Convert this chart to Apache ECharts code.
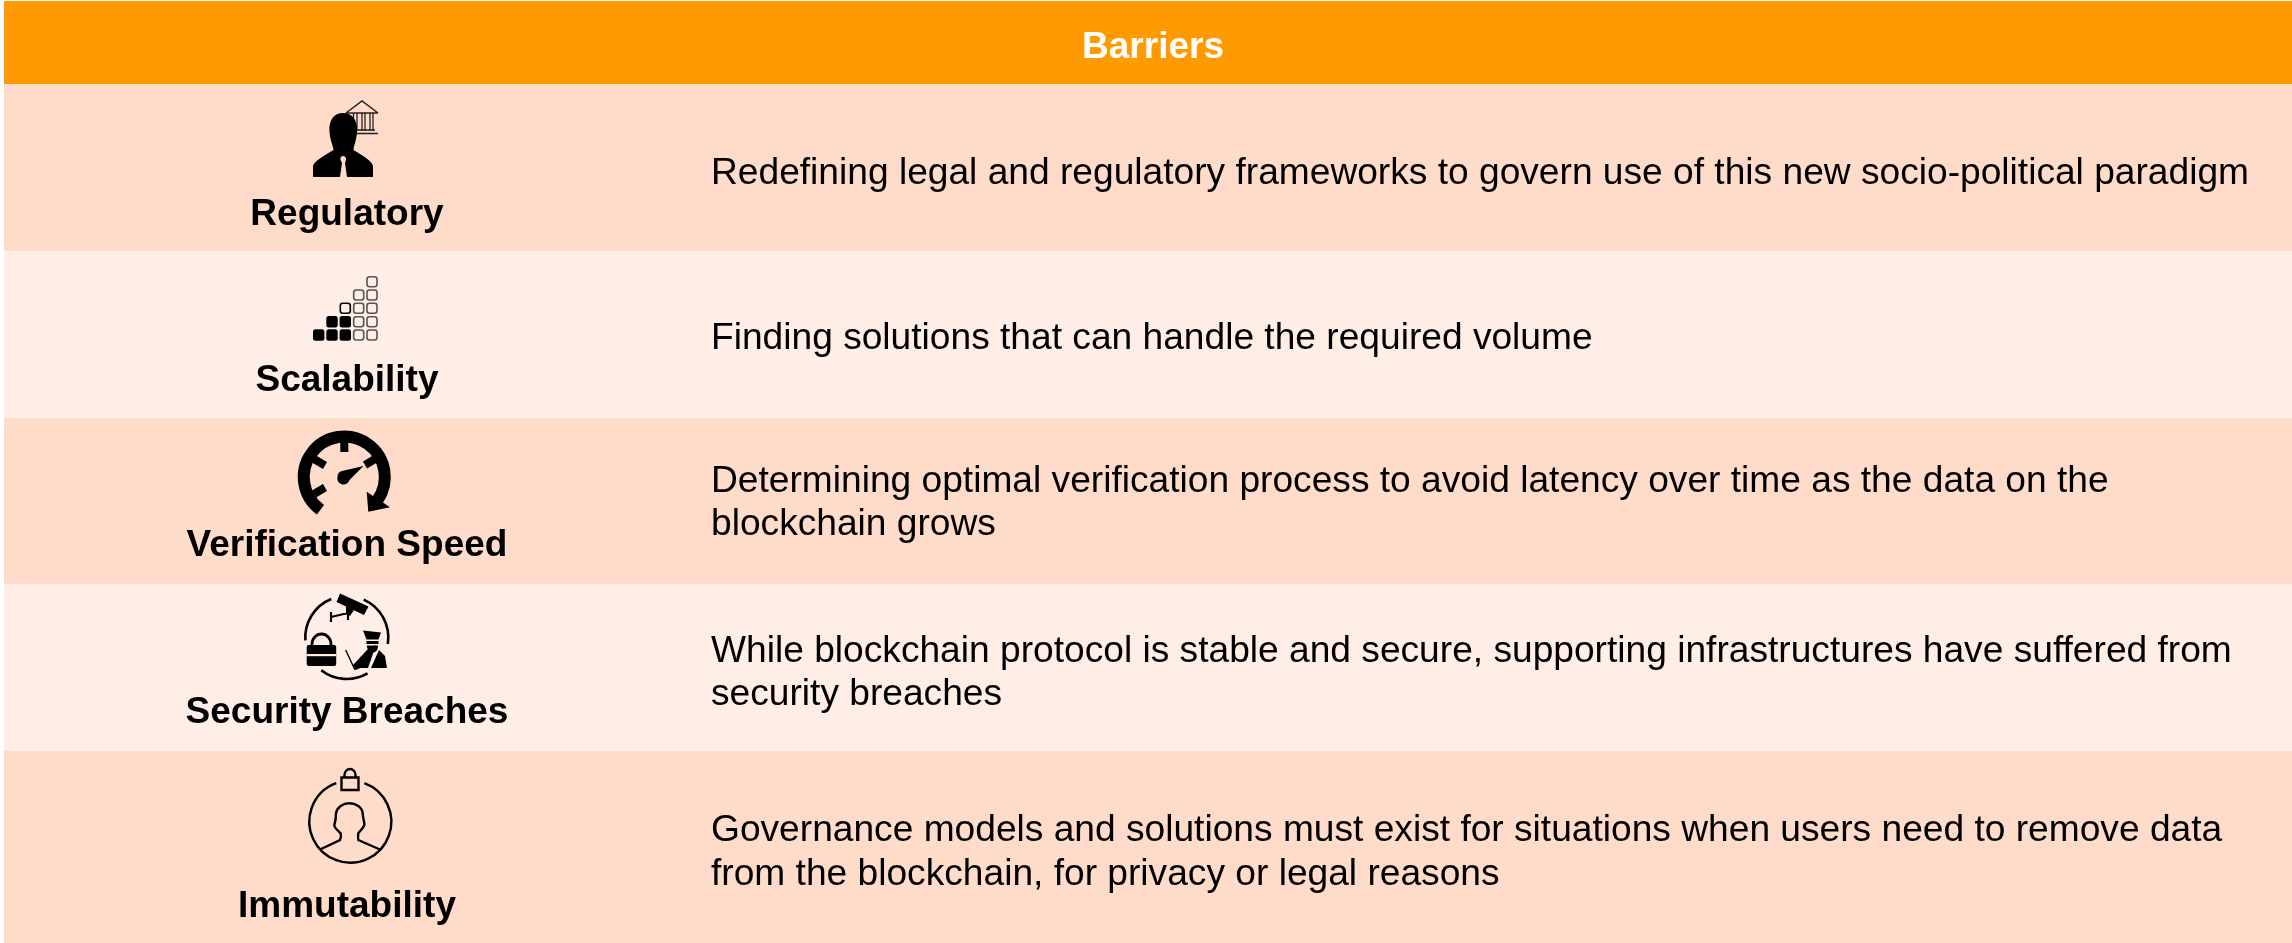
<!DOCTYPE html>
<html>
<head>
<meta charset="utf-8">
<style>
html,body{margin:0;padding:0;background:#fff}
#main{width:2292px;height:943px}
</style>
<script src="https://cdn.jsdelivr.net/npm/echarts@6/dist/echarts.min.js"></script>
</head>
<body>
<div id="main"></div>
<script>
var title = 'Barriers';
var barriers = ['Regulatory', 'Scalability', 'Verification Speed', 'Security Breaches', 'Immutability'];
var descriptions = [
	['Redefining legal and regulatory frameworks to govern use of this new socio-political paradigm'],
	['Finding solutions that can handle the required volume'],
	['Determining optimal verification process to avoid latency over time as the data on the', 'blockchain grows'],
	['While blockchain protocol is stable and secure, supporting infrastructures have suffered from', 'security breaches'],
	['Governance models and solutions must exist for situations when users need to remove data', 'from the blockchain, for privacy or legal reasons']
];

// layout
var rowEdges = [84, 251, 418, 584, 751, 943];
var labelY = [215, 381, 546, 713, 907];
var descY = [174, 339, 503.5, 673.5, 853];
var lineGap = 43.5;
var labelX = 347;
var descX = 711;
var rowColors = ['#fedcc9', '#feeee6'];
var fontName = '"Liberation Sans", Arial, sans-serif';

function fillPath(d, color) { return {type: 'path', shape: {pathData: d}, style: {fill: color || '#000'}}; }
function linePath(d, w, color) { return {type: 'path', shape: {pathData: d}, style: {fill: 'none', stroke: color || '#000', lineWidth: w}}; }
function rad(a) { return a * Math.PI / 180; }
function arc(cx, cy, r, a0, a1, w) {
	return {type: 'arc', shape: {cx: cx, cy: cy, r: r, startAngle: rad(a0), endAngle: rad(a1), clockwise: true}, style: {fill: 'none', stroke: '#000', lineWidth: w}};
}

function regulatoryIcon(els) {
	els.push(linePath('M346 113 L362 101 L378 113 M346 113 H378', 1.5, '#222'));
	els.push(linePath('M353.5 113 V131 M357 113 V131 M362 113 V131 M365 113 V131 M370 113 V131 M373 113 V131', 1.3, '#222'));
	els.push(linePath('M348 130 H375 M348 133.5 H378', 1.6, '#222'));
	els.push(fillPath('M313 177 V166 C314 162 320 158 333.5 150 C333 145 330 140 329.5 132 C328.5 120 334 113 343 113 C352 113 358 120 357 132 C356.5 140 354 145 353.5 150 C362 155 372 161 373 166 V177 Z'));
	els.push(fillPath('M343 156 C345 156 346.5 158 346 160 L345 163 L347 177 H340 L342 163 L340.5 160 C340 158 341 156 343 156 Z', rowColors[0]));
}

function scalabilityIcon(els) {
	var xs = [318.7, 332, 345.3, 358.7, 372], ys = [335, 321.7, 308.3, 295, 281.7];
	var filled = [[0, 0], [1, 0], [2, 0], [1, 1], [2, 1]];
	var outlined = [[2, 2]];
	var gray = [[3, 0], [4, 0], [3, 1], [4, 1], [3, 2], [4, 2], [3, 3], [4, 3], [4, 4]];
	filled.forEach(function (c) {
		els.push({type: 'rect', shape: {x: xs[c[0]] - 5.7, y: ys[c[1]] - 5.7, width: 11.4, height: 11.4, r: 2.5}, style: {fill: '#000'}});
	});
	outlined.concat(gray).forEach(function (c, k) {
		els.push({type: 'rect', shape: {x: xs[c[0]] - 5, y: ys[c[1]] - 5, width: 10, height: 10, r: 2.5}, style: {fill: 'none', stroke: k === 0 ? '#000' : '#555', lineWidth: 1.6}});
	});
}

function speedIcon(els) {
	els.push(arc(344.3, 477, 40.5, 126, 395, 12));
	els.push(fillPath('M366.7 491.7 L368.3 511.7 L390 507.3 Z'));
	els.push(linePath('M344.3 441 V452', 8));
	els.push(linePath('M375 459 L365 465', 8));
	els.push(linePath('M314 459 L325 465.5', 8));
	els.push(linePath('M314 494 L325 487.5', 8));
	els.push(fillPath('M337.5 476.7 A6 6 0 0 1 342 471 L363.5 466 L349.5 480 A6 6 0 0 1 337.5 476.7 Z'));
}

function securityIcon(els) {
	var cx = 346.8, cy = 637.5, r = 41.5;
	els.push(arc(cx, cy, r, 176, 248, 2.6));
	els.push(arc(cx, cy, r, 294, 369, 2.6));
	els.push(arc(cx, cy, r, 60, 128, 2.6));
	// camera
	els.push(fillPath('M340 593.5 L368.5 606.5 L364 615 L336.5 602 Z'));
	els.push(linePath('M331 612 V622 M331 617 L348 613 M348 612 V620', 2.2));
	els.push(fillPath('M346 606 L354 610 L350 616 L346 614 Z'));
	// padlock
	els.push(linePath('M312 645 V644 A9.5 10 0 0 1 331 644 V645', 2.8));
	els.push({type: 'rect', shape: {x: 306.7, y: 645, width: 29.5, height: 21, r: 2}, style: {fill: '#000'}});
	els.push({type: 'rect', shape: {x: 306.7, y: 654, width: 29.5, height: 2.2}, style: {fill: rowColors[1]}});
	// guard
	els.push(fillPath('M363 630.5 L381 632.5 L378.5 639.5 L366.5 639.5 Z'));
	els.push(fillPath('M366.5 641 H378.5 V644 H366.5 Z'));
	els.push(fillPath('M367 645.5 H378 C378 650 376 652.5 372.5 652.5 C369 652.5 367 650 367 645.5 Z'));
	els.push(fillPath('M353 665 L367 650 L376 645 L368 668 H360 L356 670 Z'));
	els.push(fillPath('M379 650 L385 656 L387 668 H371 Z'));
	els.push(linePath('M345.7 650 L355 670', 1.4));
}

function immutabilityIcon(els) {
	var cx = 350.3, cy = 821.7, r = 41;
	els.push(arc(cx, cy, r, -70, 250, 2.4));
	els.push({type: 'rect', shape: {x: 341.5, y: 777.5, width: 17, height: 12.5}, style: {fill: 'none', stroke: '#000', lineWidth: 2.4}});
	els.push(linePath('M344.5 777 V775 A5.5 6 0 0 1 355.5 775 V777', 2.4));
	els.push(linePath('M320 849.5 L340 840 C341 838 341 835 340.7 833.3 C337 830 334 827 334.3 825 C335 823 336 820 336 813.3 C337 807 343 803.3 349.3 803.3 C356 803.3 362 807 362.7 813.3 C363 820 365 823 364.3 825 C364 827 361 830 358.3 833.3 C358 835 358 838 358.3 840 L380 849.5', 2.4));
}

var icons = [regulatoryIcon, scalabilityIcon, speedIcon, securityIcon, immutabilityIcon];

// one custom item per table row, the header is item 0
function renderRow(params) {
	var n = params.dataIndex;
	var els = [];
	if (n === 0) {
		els.push({type: 'rect', shape: {x: 4, y: 1, width: 2288, height: 83}, style: {fill: '#ff9a00'}});
		els.push({type: 'text', x: 1153, y: 48, style: {text: title, fill: '#fff', font: 'bold 37px ' + fontName, textAlign: 'center', textVerticalAlign: 'middle'}});
		return {type: 'group', children: els};
	}
	var i = n - 1;
	els.push({type: 'rect', shape: {x: 4, y: rowEdges[i], width: 2288, height: rowEdges[i + 1] - rowEdges[i]}, style: {fill: rowColors[i % 2]}});
	els.push({type: 'text', x: labelX, y: labelY[i], style: {text: barriers[i], fill: '#000', font: 'bold 37px ' + fontName, textAlign: 'center', textVerticalAlign: 'middle'}});
	var lines = descriptions[i];
	for (var j = 0; j < lines.length; j++) {
		els.push({type: 'text', x: descX, y: descY[i] + (j - (lines.length - 1) / 2) * lineGap, style: {text: lines[j], fill: '#000', font: '37.15px ' + fontName, textAlign: 'left', textVerticalAlign: 'middle'}});
	}
	icons[i](els);
	return {type: 'group', children: els};
}

var chart = echarts.init(document.getElementById('main'));
chart.setOption({
	animation: false,
	series: [{
		type: 'custom',
		coordinateSystem: 'none',
		silent: true,
		clip: false,
		renderItem: renderRow,
		data: [title].concat(barriers)
	}]
});
</script>
</body>
</html>
